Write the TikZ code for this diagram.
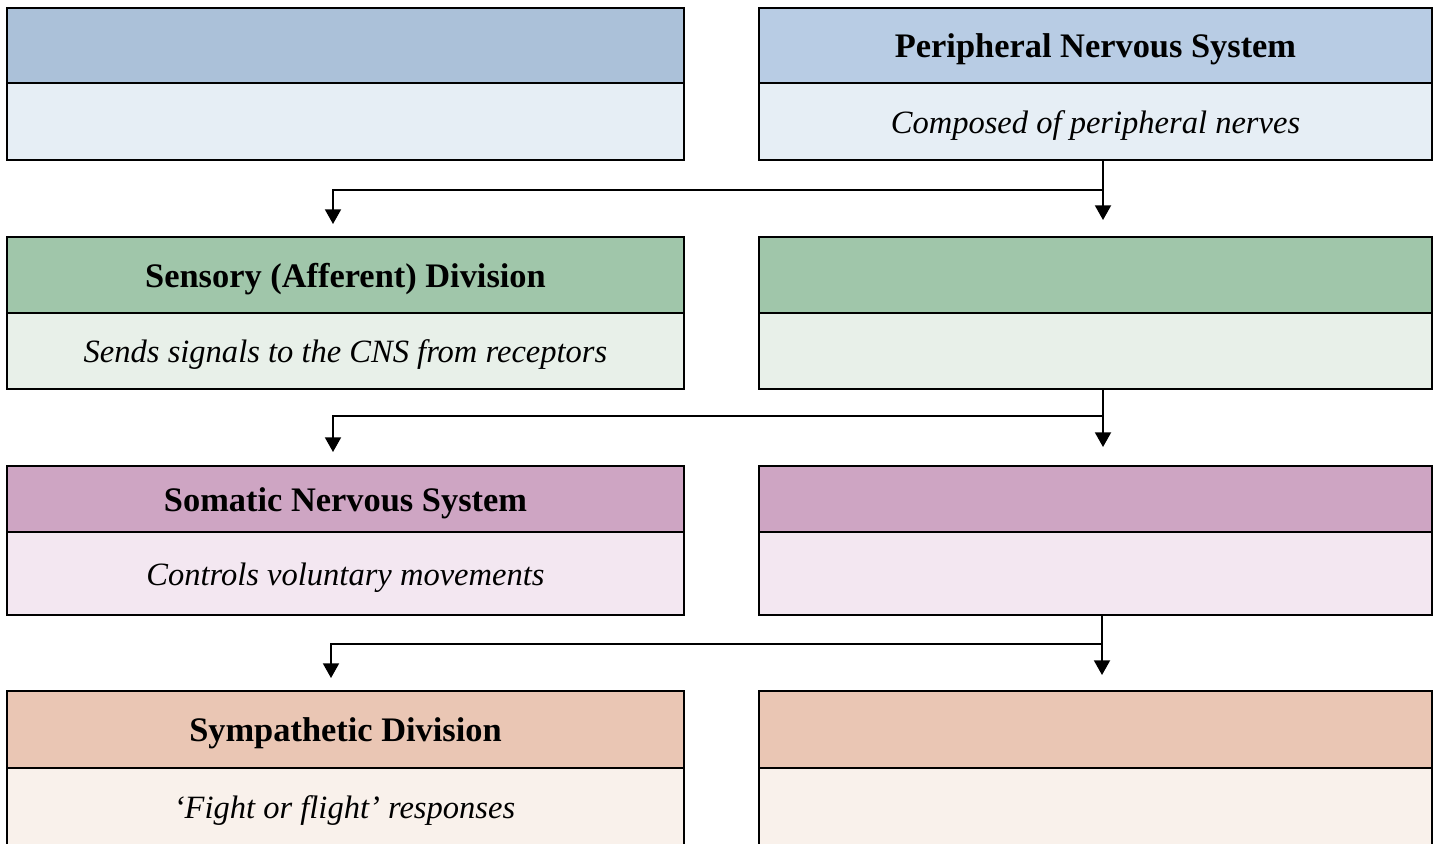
\documentclass[tikz,border=0pt]{standalone}
\usepackage{fontspec}
\setmainfont{Liberation Serif}
\usetikzlibrary{arrows.meta}
\definecolor{bhL}{RGB}{171,193,217}
\definecolor{bhR}{RGB}{184,204,228}
\definecolor{bb}{RGB}{230,238,245}
\definecolor{gh}{RGB}{160,198,170}
\definecolor{gb}{RGB}{232,240,233}
\definecolor{ph}{RGB}{206,165,195}
\definecolor{pb}{RGB}{243,231,241}
\definecolor{oh}{RGB}{234,198,180}
\definecolor{ob}{RGB}{249,241,235}
\newcommand{\dn}[1]{\raisebox{-3pt}[\height][\depth]{#1}}
\begin{document}
\begin{tikzpicture}[x=0.75pt,y=-0.75pt,
  cell/.style={draw=black,line width=1.5pt,anchor=north west,inner sep=0pt,align=center},
  lcell/.style={cell,minimum width=507.75pt},
  rcell/.style={cell,minimum width=504.75pt},
  ttl/.style={font=\fontsize{25.8}{30}\selectfont\bfseries},
  sub/.style={font=\fontsize{24.4}{29}\selectfont\itshape},
  arr/.style={line width=1.4pt,-{Triangle[width=12pt,length=11pt]}}]
\useasboundingbox (0,0) rectangle (1439,843);
\fill[white] (0,0) rectangle (1439,843);
\clip (0,0) rectangle (1439,843);
% row 1
\node[lcell,fill=bhL,minimum height=56.25pt] (l1h) at (6,7) {};
\node[lcell,fill=bb,minimum height=57.75pt] (l1b) at (6,82) {};
\node[rcell,fill=bhR,minimum height=56.25pt,ttl] (r1h) at (758,7) {\dn{Peripheral Nervous System}};
\node[rcell,fill=bb,minimum height=57.75pt,sub] (r1b) at (758,82) {\dn{Composed of peripheral nerves}};
% row 2
\node[lcell,fill=gh,minimum height=57pt,ttl] (l2h) at (6,236) {\dn{Sensory (Afferent) Division}};
\node[lcell,fill=gb,minimum height=57pt,sub] (l2b) at (6,312) {\dn{Sends signals to the CNS from receptors}};
\node[rcell,fill=gh,minimum height=57pt] (r2h) at (758,236) {};
\node[rcell,fill=gb,minimum height=57pt] (r2b) at (758,312) {};
% row 3
\node[lcell,fill=ph,minimum height=49.5pt,ttl] (l3h) at (6,465) {\dn{Somatic Nervous System}};
\node[lcell,fill=pb,minimum height=62.25pt,sub] (l3b) at (6,531) {\dn{Controls voluntary movements}};
\node[rcell,fill=ph,minimum height=49.5pt] (r3h) at (758,465) {};
\node[rcell,fill=pb,minimum height=62.25pt] (r3b) at (758,531) {};
% row 4
\node[lcell,fill=oh,minimum height=57.75pt,ttl] (l4h) at (6,690) {\dn{Sympathetic Division}};
\node[lcell,fill=ob,minimum height=90pt,sub] (l4b) at (6,767) {};
\node[sub] (l4t) at (344.5,806) {\dn{`Fight or flight' responses}};
\node[rcell,fill=oh,minimum height=57.75pt] (r4h) at (758,690) {};
\node[rcell,fill=ob,minimum height=90pt] (r4b) at (758,767) {};
% connectors
\draw[arr,shorten >=12pt] ([xshift=5.625pt]r1b.south) -- ([xshift=5.625pt]r2h.north);
\draw[arr,shorten >=9pt] ([xshift=5.625pt]r1b.south) -- ++(0,29) -| ([xshift=-9.375pt]l2h.north);
\draw[arr,shorten >=13.5pt] ([xshift=5.625pt]r2b.south) -- ([xshift=5.625pt]r3h.north);
\draw[arr,shorten >=9.75pt] ([xshift=5.625pt]r2b.south) -- ++(0,26) -| ([xshift=-9.375pt]l3h.north);
\draw[arr,shorten >=11.25pt] ([xshift=4.875pt]r3b.south) -- ([xshift=4.875pt]r4h.north);
\draw[arr,shorten >=9pt] ([xshift=4.875pt]r3b.south) -- ++(0,28) -| ([xshift=-10.875pt]l4h.north);
\end{tikzpicture}
\end{document}
